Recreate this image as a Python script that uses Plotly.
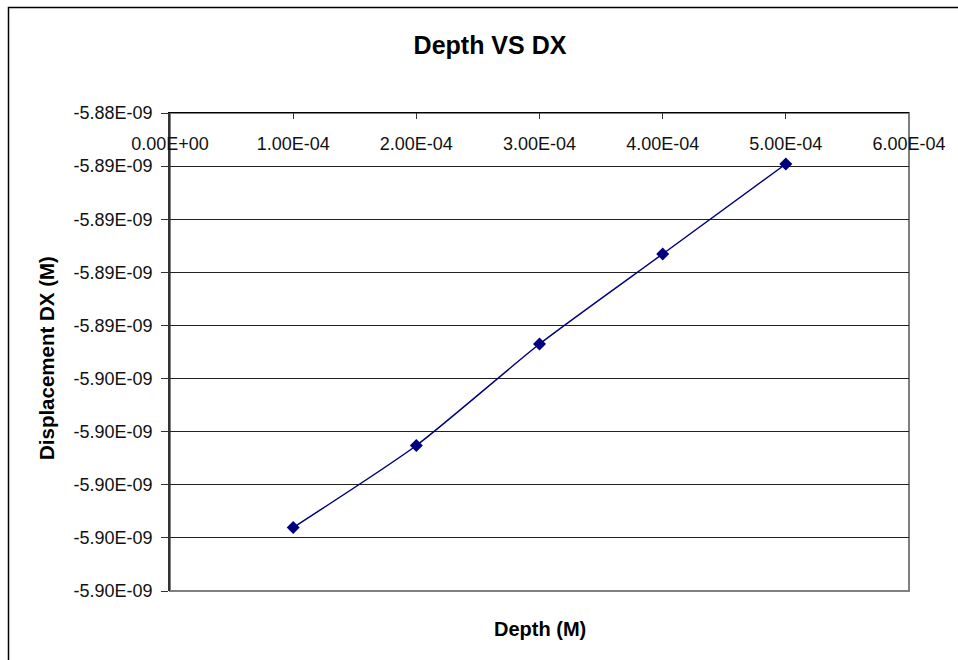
import plotly.graph_objects as go

# Data
depth = [1e-4, 2e-4, 3e-4, 4e-4, 5e-4]
dx = [-5.89961e-9, -5.89652e-9, -5.89270e-9, -5.88931e-9, -5.88592e-9]

x_tickvals = [0, 1e-4, 2e-4, 3e-4, 4e-4, 5e-4, 6e-4]
x_ticktext = ["0.00E+00", "1.00E-04", "2.00E-04", "3.00E-04", "4.00E-04", "5.00E-04", "6.00E-04"]
y_tickvals = [-5.884e-9, -5.886e-9, -5.888e-9, -5.890e-9, -5.892e-9,
              -5.894e-9, -5.896e-9, -5.898e-9, -5.900e-9, -5.902e-9]
y_ticktext = ["-5.88E-09", "-5.89E-09", "-5.89E-09", "-5.89E-09", "-5.89E-09",
              "-5.90E-09", "-5.90E-09", "-5.90E-09", "-5.90E-09", "-5.90E-09"]

W, H = 958, 660
L, R, T, B = 170, 49, 113, 69
pw, ph = W - L - R, H - T - B

def px_x(p):
    return (p - L) / pw

def px_y(p):
    return (H - B - p) / ph

fig = go.Figure()
fig.add_trace(go.Scatter(
    x=depth, y=dx, mode="lines+markers",
    line=dict(color="#000080", width=1.5, shape="spline", smoothing=0.6),
    marker=dict(symbol="diamond", size=10, color="#000080"),
    showlegend=False,
))

font_family = "Arial, Liberation Sans, sans-serif"
tick_font = dict(size=18, color="#111111", family=font_family, weight="normal")

fig.update_layout(
    width=W, height=H,
    margin=dict(l=L, r=R, t=T, b=B),
    paper_bgcolor="white", plot_bgcolor="white",
    font=dict(family=font_family, color="black"),
    title=dict(text="<b>Depth VS DX</b>", font=dict(size=25, color="black"),
               xref="container", yref="container", x=490 / W, y=1 - 45 / H,
               xanchor="center", yanchor="middle"),
    xaxis=dict(
        range=[0, 6e-4], side="top", tickvals=x_tickvals, ticktext=x_ticktext,
        ticks="inside", ticklen=6, tickcolor="#333333",
        ticklabelposition="inside", ticklabeloverflow="allow", ticklabelstandoff=19,
        showline=True, linecolor="black", linewidth=1,
        showgrid=False, zeroline=False,
        tickfont=tick_font,
    ),
    yaxis=dict(
        range=[-5.902e-9, -5.884e-9], tickvals=y_tickvals, ticktext=y_ticktext,
        ticks="outside", ticklen=7, tickcolor="#333333",
        ticklabelstandoff=5,
        showline=True, linecolor="#333333", linewidth=1.5,
        showgrid=True, gridcolor="#222222", gridwidth=1, zeroline=False,
        tickfont=tick_font,
    ),
    shapes=[
        dict(type="rect", xref="paper", yref="paper", x0=0, x1=1, y0=0, y1=1,
             line=dict(color="#808080", width=2), layer="below"),
        dict(type="rect", xref="paper", yref="paper",
             x0=px_x(8.5), x1=px_x(962), y0=px_y(664), y1=px_y(7.5),
             line=dict(color="black", width=1.5), layer="below"),
    ],
    annotations=[
        dict(text="<b>Depth (M)</b>", xref="paper", yref="paper",
             x=px_x(540), y=px_y(629), xanchor="center", yanchor="middle",
             showarrow=False, font=dict(size=20, color="black")),
        dict(text="<b>Displacement DX (M)</b>", xref="paper", yref="paper",
             x=px_x(46), y=px_y(358), xanchor="center", yanchor="middle",
             textangle=-90, showarrow=False, font=dict(size=20.5, color="black")),
    ],
)

fig.write_html("out.html")
